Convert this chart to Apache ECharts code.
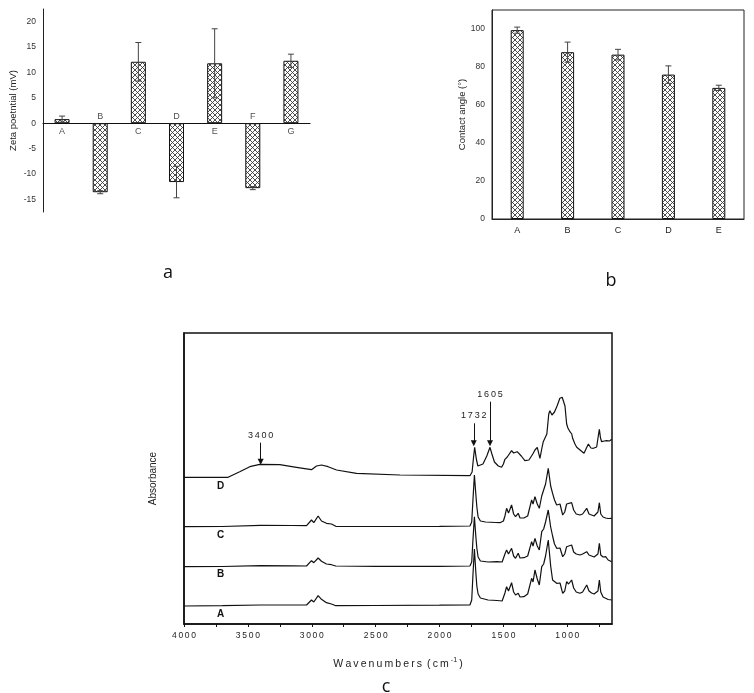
<!DOCTYPE html>
<html><head><meta charset="utf-8">
<script src="https://cdn.jsdelivr.net/npm/echarts@6/dist/echarts.min.js"></script>
<style>html,body{margin:0;padding:0;background:#fff}#c{width:754px;height:693px}</style>
</head><body><div id="c"></div>
<script>
// ---- Panel a: zeta potential ----
const zetaCats = ['A','B','C','D','E','F','G'];
const zetaVals = [0.8,-13.6,12.1,-11.6,11.8,-12.8,12.3];
const zetaErr  = [0.6,0.3,3.8,3.1,6.8,0.3,1.3];
const zetaLabelTicks = [-15,-10,-5,0,5,10,15,20];
const zetaAllTicks = [-17.5,-15,-12.5,-10,-7.5,-5,-2.5,0,2.5,5,7.5,10,12.5,15,17.5,20,22.5];
// ---- Panel b: contact angle ----
const caCats = ['A','B','C','D','E'];
const caVals = [99.4,87.8,86.5,76,69];
const caErr  = [1.6,5.3,2.8,4.6,1.4];
const caLabelTicks = [0,20,40,60,80,100];
const caAllTicks = [0,10,20,30,40,50,60,70,80,90,100,110];
// ---- Panel c: FTIR spectra ----
const wnLabelTicks = [4000,3500,3000,2500,2000,1500,1000];
const wnAllTicks = [4000,3750,3500,3250,3000,2750,2500,2250,2000,1750,1500,1250,1000,750];
const specA = [[4000,18],[3700,18.3],[3400,19],[3150,19],[3041,19],[3002,24],[2984,22],[2950,28.3],[2924,24.7],[2885,21.3],[2846,20],[2812,18.3],[2500,18.5],[2000,18.8],[1762,19],[1748,24],[1738,50],[1727,75],[1716,52],[1708,38],[1698,30],[1680,26],[1620,24],[1550,23.5],[1510,23],[1500,25],[1488,31],[1475,37.3],[1460,33],[1436,41.3],[1420,32],[1405,29],[1384,30.7],[1370,27],[1340,27.3],[1310,30],[1279,45.7],[1268,42],[1253,54],[1235,45],[1219,39],[1200,57.3],[1185,60],[1170,68],[1149,84],[1130,58],[1115,44],[1100,42],[1083,40.7],[1057,41],[1036,30.7],[1020,33],[1005,42.3],[990,40],[966,44],[950,36],[930,32],[901,30.7],[880,32],[848,39],[830,33],[810,31],[790,30],[760,33],[749,44],[738,32],[720,27],[700,25.7],[680,24.5],[652,24]];
const specB = [[4000,57.3],[3700,57.5],[3400,58.3],[3150,58.2],[3041,58],[3002,63.3],[2984,61.3],[2950,66],[2924,62.7],[2885,60],[2846,59.3],[2812,58],[2500,57.6],[2000,57.7],[1762,58],[1748,62],[1738,85],[1727,107.3],[1716,88],[1708,76],[1698,67],[1680,63],[1620,62],[1550,62.3],[1510,62],[1500,64],[1488,70],[1475,74],[1460,70],[1436,75.7],[1420,68],[1405,65.7],[1384,70.7],[1370,66],[1340,66.3],[1310,68],[1279,82.3],[1268,78],[1253,85.7],[1235,78],[1219,74],[1200,92.3],[1185,95],[1170,102],[1149,114],[1130,97],[1115,88],[1100,80],[1083,75.7],[1057,76],[1036,67.3],[1020,70],[1005,77.3],[990,76],[966,79],[950,72],[930,70],[901,69],[880,70],[848,72.3],[830,69],[810,68],[790,67],[760,70],[749,80.7],[738,69],[720,67],[700,67.3],[680,64],[652,62.3]];
const specC = [[4000,97.3],[3700,97.5],[3400,98.7],[3150,98.5],[3041,98.3],[3002,104],[2984,101.3],[2950,108],[2924,103],[2885,100.7],[2846,100],[2812,97.7],[2500,97.5],[2000,97.7],[1762,98],[1748,102],[1738,125],[1727,149],[1716,130],[1708,117.3],[1698,107],[1680,103],[1640,102],[1560,101.5],[1527,101.3],[1500,103],[1488,108],[1475,115.7],[1460,111],[1436,119],[1420,110],[1405,107.3],[1384,110.7],[1370,106],[1340,106],[1310,108],[1279,124],[1268,120],[1253,127.3],[1235,120],[1219,115.7],[1200,128],[1185,134],[1170,140],[1149,155.7],[1130,138],[1115,130.7],[1100,124],[1083,119],[1057,120],[1036,109],[1020,112],[1005,120],[990,118],[966,121.3],[950,114],[930,110],[901,109],[880,110],[848,115.7],[830,110],[810,109],[790,108],[760,112],[749,121.3],[738,110],[720,107],[700,106],[680,105.5],[652,105.7]];
const specD = [[4000,146.7],[3655,146.7],[3564,152.3],[3485,157.3],[3407,159.7],[3250,159.3],[3120,156.7],[3002,154.3],[2963,158],[2924,159],[2872,157.3],[2806,154],[2650,150.7],[2310,149],[1762,148.3],[1745,152],[1735,165],[1725,176.7],[1712,165],[1700,158],[1689,156.7],[1660,160],[1630,168],[1605,176.7],[1590,170],[1570,162],[1540,158],[1514,156.7],[1500,160],[1488,164.7],[1470,167],[1436,173.3],[1420,171],[1392,172.3],[1360,168],[1332,163.3],[1300,164],[1270,170],[1253,174],[1235,176.7],[1214,165.7],[1200,175],[1188,182.3],[1160,190],[1145,210],[1136,213.3],[1120,209],[1100,212],[1080,218],[1058,225.7],[1040,226.7],[1031,226.7],[1018,218],[1005,200],[995,196],[979,192.3],[965,190],[958,185.7],[940,180],[926,176.7],[900,174],[887,173],[869,170.7],[850,176],[835,180],[815,176],[796,175.7],[770,177],[755,190],[749,194.7],[740,186],[731,182.3],[710,183],[692,183.3],[670,183],[652,184.7]];
const specNames = ['A','B','C','D'];
const specLetterWn = 3713;
const specLetterY = [9.7,50,88.3,137.3];
const annText = ['3400','1732','1605'];
const annWn = [3400,1732,1605];
const annFrom = [181.3,200.7,222.3];
const annTo = [162.3,180.7,180.7];

const FONT = 'Liberation Sans, Arial, sans-serif';
const spaced = s => String(s).split('').join('\u2009');

function hatchCanvas(){
  const n = 5;
  const c = document.createElement('canvas'); c.width = n; c.height = n;
  const g = c.getContext('2d');
  g.fillStyle = '#fff'; g.fillRect(0,0,n,n);
  g.strokeStyle = '#3a3a3a'; g.lineWidth = 0.9;
  g.beginPath();
  g.moveTo(-1,-1); g.lineTo(n+1,n+1);
  g.moveTo(n+1,-1); g.lineTo(-1,n+1);
  g.stroke();
  return c;
}
const hatch = {image: hatchCanvas(), repeat: 'repeat'};

function errRender(params, api){
  const x = api.value(0), y = api.value(1), e = api.value(2);
  const hi = api.coord([x, y + e]), lo = api.coord([x, y - e]);
  const w = 3;
  const st = {stroke: '#444', lineWidth: 1};
  return {type: 'group', children: [
    {type: 'line', shape: {x1: hi[0], y1: hi[1], x2: lo[0], y2: lo[1]}, style: st},
    {type: 'line', shape: {x1: hi[0]-w, y1: hi[1], x2: hi[0]+w, y2: hi[1]}, style: st},
    {type: 'line', shape: {x1: lo[0]-w, y1: lo[1], x2: lo[0]+w, y2: lo[1]}, style: st}
  ]};
}

const chart = echarts.init(document.getElementById('c'), null, {renderer: 'canvas'});

const specSeries = [specA, specB, specC, specD].map((d, i) => ({
  type: 'line', xAxisIndex: 2, yAxisIndex: 2, data: d, showSymbol: false, silent: true,
  color: '#111',
  lineStyle: {color: '#111', width: 1.2}, z: 3,
  markPoint: {
    silent: true, symbol: 'circle', symbolSize: 1, itemStyle: {color: 'rgba(0,0,0,0)'},
    label: {show: true, position: 'inside', formatter: specNames[i], fontFamily: FONT, fontWeight: 'bold', fontSize: 10, color: '#111'},
    data: [{coord: [specLetterWn, specLetterY[i]]}]
  },
  markLine: i === 3 ? {
    silent: true, symbol: ['none', 'triangle'], symbolSize: 6, symbolRotate: 180,
    itemStyle: {color: '#111'},
    lineStyle: {color: '#111', width: 1, type: 'solid'},
    label: {show: true, position: 'start', formatter: p => spaced(p.name), fontFamily: FONT, fontSize: 9, color: '#222', distance: 3},
    data: annText.map((t, k) => [{name: t, coord: [annWn[k], annFrom[k]]}, {coord: [annWn[k], annTo[k]]}])
  } : undefined
}));

chart.setOption({
  animation: false,
  textStyle: {fontFamily: FONT},
  grid: [
    {left: 43, top: 9, width: 267, height: 203},
    {left: 492, top: 10, width: 252, height: 209, show: true, borderColor: '#222', borderWidth: 1},
    {left: 184, top: 333, width: 428, height: 291, show: true, borderColor: '#111', borderWidth: 1.5}
  ],
  xAxis: [
    {gridIndex: 0, type: 'category', data: zetaCats,
      axisLine: {onZero: true, lineStyle: {color: '#111', width: 1}},
      axisTick: {show: false}, axisLabel: {show: false}},
    {gridIndex: 1, type: 'category', data: caCats,
      axisLine: {lineStyle: {color: '#222'}}, axisTick: {show: false},
      axisLabel: {fontSize: 9, color: '#222', margin: 7}},
    {gridIndex: 2, type: 'value', min: 650, max: 4000, inverse: true,
      axisLine: {lineStyle: {color: '#111', width: 1.5}},
      axisTick: {customValues: wnAllTicks, length: 3, lineStyle: {color: '#111'}},
      axisLabel: {customValues: wnLabelTicks, formatter: v => spaced(v), fontSize: 8.5, color: '#222', margin: 7},
      splitLine: {show: false},
      name: 'W\u2009a\u2009v\u2009e\u2009n\u2009u\u2009m\u2009b\u2009e\u2009r\u2009s\u2009 (\u2009c\u2009m{s|-1}\u2009)',
      nameLocation: 'middle', nameGap: 33,
      nameTextStyle: {fontSize: 10.5, color: '#222', rich: {s: {fontSize: 7, verticalAlign: 'top', padding: [0,0,7,2]}}}}
  ],
  yAxis: [
    {gridIndex: 0, type: 'value', min: -17.5, max: 22.5,
      axisLine: {show: true, lineStyle: {color: '#222'}},
      axisTick: {customValues: zetaAllTicks, length: 3, lineStyle: {color: '#222'}},
      axisLabel: {customValues: zetaLabelTicks, fontSize: 8.5, color: '#333', margin: 7},
      splitLine: {show: false},
      name: 'Zeta poetntial (mV)', nameLocation: 'middle', nameGap: 25,
      nameTextStyle: {fontSize: 9.5, color: '#222'}},
    {gridIndex: 1, type: 'value', min: 0, max: 110,
      axisLine: {show: true, lineStyle: {color: '#222'}},
      axisTick: {customValues: caAllTicks, length: 3, lineStyle: {color: '#222'}},
      axisLabel: {customValues: caLabelTicks, fontSize: 8.5, color: '#333', margin: 7},
      splitLine: {show: false},
      name: 'Contact angle (\u00B0)', nameLocation: 'middle', nameGap: 24,
      nameTextStyle: {fontSize: 9.5, color: '#222'}},
    {gridIndex: 2, type: 'value', min: 0, max: 291,
      axisLine: {show: true, lineStyle: {color: '#111', width: 1.5}},
      axisTick: {show: false}, axisLabel: {show: false}, splitLine: {show: false},
      name: 'Absorbance', nameLocation: 'middle', nameGap: 26,
      nameTextStyle: {fontSize: 10, color: '#222'}}
  ],
  series: [
    {type: 'bar', xAxisIndex: 0, yAxisIndex: 0, data: zetaVals, barWidth: 15,
      itemStyle: {color: hatch, borderColor: '#111', borderWidth: 1}, silent: true, z: 2},
    {type: 'custom', xAxisIndex: 0, yAxisIndex: 0, renderItem: errRender,
      data: zetaVals.map((v, i) => [i, v, zetaErr[i]]), encode: {x: 0, y: 1}, silent: true, z: 4},
    {type: 'scatter', xAxisIndex: 0, yAxisIndex: 0, symbolSize: 0, silent: true, z: 5,
      data: zetaCats.map((c, i) => ({name: c, value: [i, 0],
        label: {position: zetaVals[i] >= 0 ? 'bottom' : 'top', distance: zetaVals[i] >= 0 ? 4 : 2}})),
      label: {show: true, formatter: '{b}', fontSize: 9, color: '#222', fontFamily: FONT}},
    {type: 'bar', xAxisIndex: 1, yAxisIndex: 1, data: caVals, barWidth: 13,
      itemStyle: {color: hatch, borderColor: '#111', borderWidth: 1}, silent: true, z: 2},
    {type: 'custom', xAxisIndex: 1, yAxisIndex: 1, renderItem: errRender,
      data: caVals.map((v, i) => [i, v, caErr[i]]), encode: {x: 0, y: 1}, silent: true, z: 4},
    ...specSeries
  ],
  graphic: [
    {type: 'text', x: 168, y: 273, style: {text: 'a', fontSize: 18, fontFamily: 'Open Sans, Noto Sans, sans-serif', fill: '#111', textAlign: 'center', textVerticalAlign: 'middle'}},
    {type: 'text', x: 611, y: 281, style: {text: 'b', fontSize: 18, fontFamily: 'Open Sans, Noto Sans, sans-serif', fill: '#111', textAlign: 'center', textVerticalAlign: 'middle'}},
    {type: 'text', x: 386, y: 687, style: {text: 'c', fontSize: 18, fontFamily: 'Open Sans, Noto Sans, sans-serif', fill: '#111', textAlign: 'center', textVerticalAlign: 'middle'}}
  ]
});
</script>
</body></html>
